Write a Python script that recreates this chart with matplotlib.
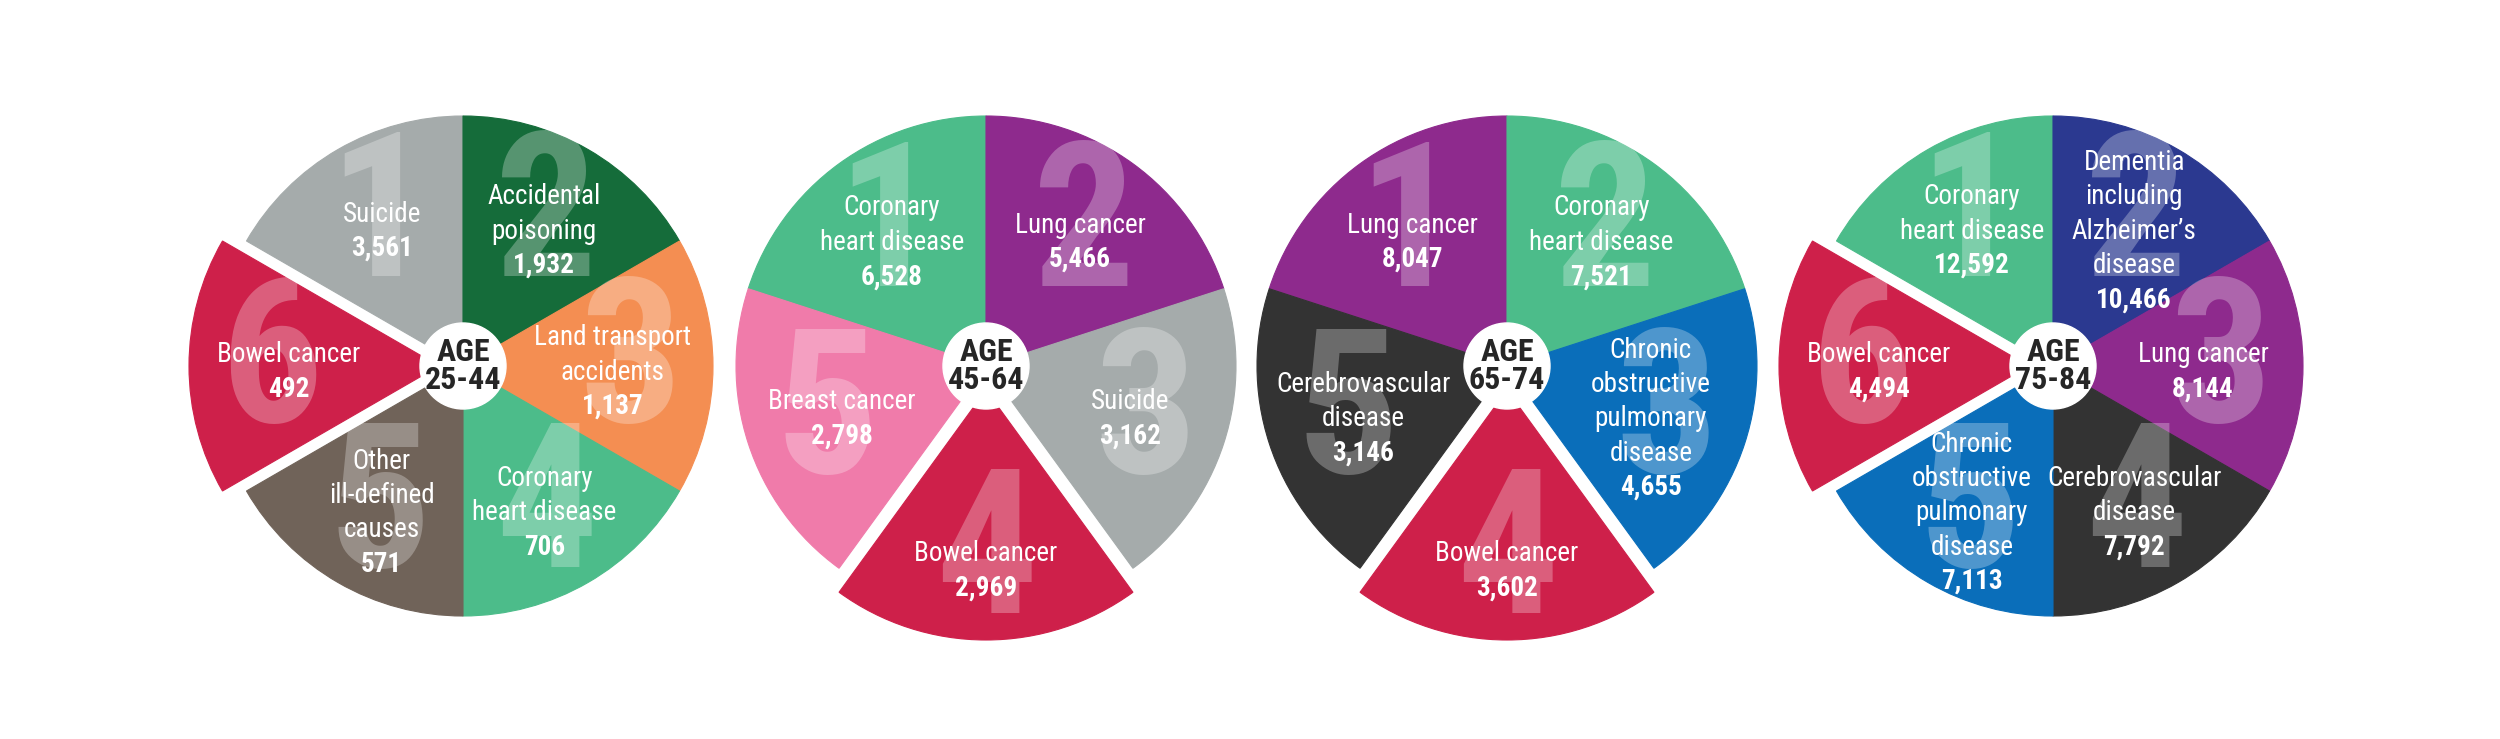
import numpy as np
import matplotlib
matplotlib.use("Agg")
import matplotlib.pyplot as plt
from matplotlib import font_manager as fm

# ---------------- data ----------------
age_groups = ["25-44", "45-64", "65-74", "75-84"]

causes_25_44 = ["Suicide", "Accidental\npoisoning", "Land transport\naccidents",
                "Coronary\nheart disease", "Other\nill-defined\ncauses", "Bowel cancer"]
deaths_25_44 = [3561, 1932, 1137, 706, 571, 492]

causes_45_64 = ["Coronary\nheart disease", "Lung cancer", "Suicide",
                "Bowel cancer", "Breast cancer"]
deaths_45_64 = [6528, 5466, 3162, 2969, 2798]

causes_65_74 = ["Lung cancer", "Coronary\nheart disease",
                "Chronic\nobstructive\npulmonary\ndisease", "Bowel cancer",
                "Cerebrovascular\ndisease"]
deaths_65_74 = [8047, 7521, 4655, 3602, 3146]

causes_75_84 = ["Coronary\nheart disease", "Dementia\nincluding\nAlzheimer\u2019s\ndisease",
                "Lung cancer", "Cerebrovascular\ndisease",
                "Chronic\nobstructive\npulmonary\ndisease", "Bowel cancer"]
deaths_75_84 = [12592, 10466, 8144, 7792, 7113, 4494]

cause_colors = {
    "Suicide": "#A5ABAB",
    "Accidental poisoning": "#156C3A",
    "Land transport accidents": "#F48E52",
    "Coronary heart disease": "#4CBC8A",
    "Other ill-defined causes": "#706359",
    "Bowel cancer": "#CE204A",
    "Lung cancer": "#8E2A8D",
    "Breast cancer": "#F07BAA",
    "Chronic obstructive pulmonary disease": "#0A6EBA",
    "Cerebrovascular disease": "#333333",
    "Dementia including Alzheimer\u2019s disease": "#2B3990",
}
highlight_cause = "Bowel cancer"

groups = [
    (age_groups[0], causes_25_44, deaths_25_44),
    (age_groups[1], causes_45_64, deaths_45_64),
    (age_groups[2], causes_65_74, deaths_65_74),
    (age_groups[3], causes_75_84, deaths_75_84),
]

# ---------------- font choice ----------------
def pick_font():
    ttf = fm.fontManager.ttflist
    names = {f.name for f in ttf}
    for p in ["Roboto Condensed", "Liberation Sans Narrow", "Open Sans Condensed",
              "Noto Sans Condensed", "Arial Narrow"]:
        if p in names:
            return p, "normal"
    for fam in ["Roboto", "Noto Sans", "Open Sans", "DejaVu Sans"]:
        if any(f.name == fam and isinstance(f.stretch, str) and "condensed" in f.stretch
               for f in ttf):
            return fam, "condensed"
    return "Liberation Sans", "normal"

FONT, STRETCH = pick_font()

# ---------------- layout ----------------
W, H = 2500, 739
fig = plt.figure(figsize=(W / 100, H / 100), dpi=100)
ax = fig.add_axes([0, 0, 1, 1])
centers_x = [463, 986, 1507, 2053]
center_y = H - 366
R = 250
explode_px = 24
hole_r = 43
label_fs = 19.5

for (age, causes, deaths), cx in zip(groups, centers_x):
    n = len(causes)
    keys = [c.replace("\n", " ") for c in causes]
    colors = [cause_colors[k] for k in keys]
    explode = [explode_px if k == highlight_cause else 0 for k in keys]
    startangle = 90 + 360 / n
    wedges, _ = ax.pie([1] * n, colors=colors, explode=explode, startangle=startangle,
                       counterclock=False, center=(cx, center_y), radius=R,
                       wedgeprops=dict(linewidth=0.8))
    for i, w in enumerate(wedges):
        w.set_edgecolor(w.get_facecolor())
        theta = np.deg2rad((w.theta1 + w.theta2) / 2)
        wx, wy = w.center
        r_num = 0.67 * R
        # big translucent rank number
        ax.text(wx + r_num * np.cos(theta), wy + r_num * np.sin(theta), str(i + 1),
                ha="center", va="center", color="white", alpha=0.28,
                fontsize=146, fontweight="bold", family=FONT, fontstretch=STRETCH, zorder=3)
        r_lab = R * (0.70 - 0.10 * abs(np.cos(theta)))
        px = wx + r_lab * np.cos(theta)
        py = wy + r_lab * np.sin(theta) - 6
        nl = causes[i].count("\n") + 1
        ax.text(px, py, causes[i] + "\n ", ha="center", va="center", multialignment="center",
                color="white", fontsize=label_fs, family=FONT, fontstretch=STRETCH,
                linespacing=1.35, zorder=4)
        ax.text(px, py, "\n" * nl + f"{deaths[i]:,}", ha="center", va="center",
                multialignment="center", color="white", fontsize=label_fs, fontweight="bold",
                family=FONT, fontstretch=STRETCH, linespacing=1.35, zorder=4)
    ax.add_patch(plt.Circle((cx, center_y), hole_r, color="white", zorder=5))
    ax.text(cx, center_y, f"AGE\n{age}", ha="center", va="center", color="#262626",
            fontsize=23, fontweight="bold", family=FONT, fontstretch=STRETCH,
            linespacing=0.95, zorder=6)

ax.set_xlim(0, W)
ax.set_ylim(0, H)
ax.set_aspect("equal", adjustable="box")
ax.axis("off")
fig.savefig("out.png", dpi=100, facecolor="white")
